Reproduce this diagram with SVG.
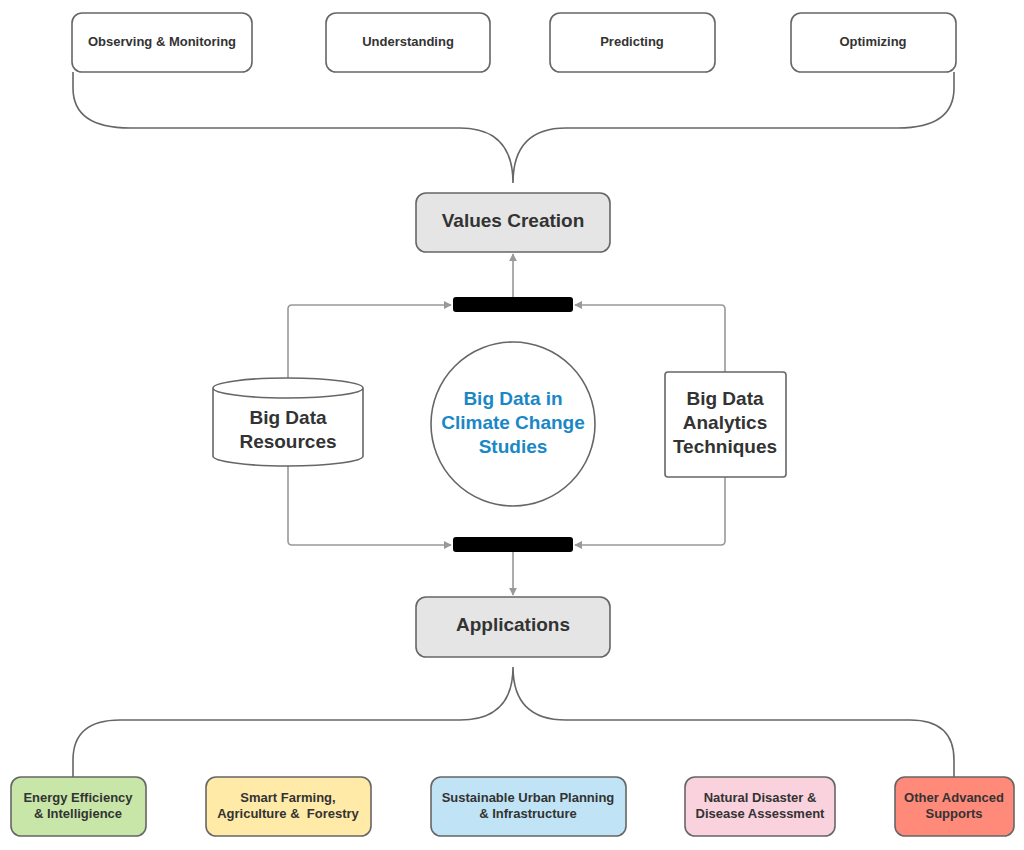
<svg xmlns="http://www.w3.org/2000/svg" width="1024" height="850" viewBox="0 0 1024 850">
<style>
.b{fill:#fff;stroke:#666;stroke-width:1.6}
.g{fill:#e5e5e5;stroke:#666;stroke-width:1.6}
.t{font-family:"Liberation Sans",Arial,sans-serif;font-weight:bold;fill:#333;text-anchor:middle}
.s{font-size:13px}
.m{font-size:19px}
.c{fill:none;stroke:#666;stroke-width:1.6}
.a{fill:none;stroke:#999;stroke-width:1.6}
</style>
<defs><marker id="ar" viewBox="0 0 10 10" refX="9" refY="5" markerWidth="8" markerHeight="8" markerUnits="userSpaceOnUse" orient="auto"><path d="M0,0L10,5L0,10z" fill="#999"/></marker></defs>
<rect width="1024" height="850" fill="#fff"/>
<g id="connectors">
<path class="c" d="M73,72 V88 Q73,128 130,128 H460 Q513,128 513,183 Q513,128 566,128 H898 Q954,128 954,88 V72"/>
<path class="c" d="M513,667 Q513,720 460,720 H120 Q73,720 73,760 V777 M513,667 Q513,720 566,720 H910 Q954,720 954,760 V777"/>
<path class="a" d="M513,297 V254" marker-end="url(#ar)"/>
<path class="a" d="M513,552 V595" marker-end="url(#ar)"/>
<path class="a" d="M288,378 V309 Q288,305 292,305 H451" marker-end="url(#ar)"/>
<path class="a" d="M725,372 V309 Q725,305 721,305 H575" marker-end="url(#ar)"/>
<path class="a" d="M288,466 V541 Q288,545 292,545 H451" marker-end="url(#ar)"/>
<path class="a" d="M725,477 V541 Q725,545 721,545 H575" marker-end="url(#ar)"/>
</g>
<g id="observing"><rect class="b" x="72" y="13" width="180" height="59" rx="10"/><text class="t s" x="162" y="46">Observing &amp; Monitoring</text></g>
<g id="understanding"><rect class="b" x="326" y="13" width="164" height="59" rx="10"/><text class="t s" x="408" y="46">Understanding</text></g>
<g id="predicting"><rect class="b" x="550" y="13" width="165" height="59" rx="10"/><text class="t s" x="632" y="46">Predicting</text></g>
<g id="optimizing"><rect class="b" x="791" y="13" width="165" height="59" rx="10"/><text class="t s" x="873" y="46">Optimizing</text></g>
<g id="values"><rect class="g" x="416" y="193" width="194" height="59" rx="10"/><text class="t m" x="513" y="227">Values Creation</text></g>
<g id="bar-top"><rect x="453" y="297" width="120" height="15" rx="3" fill="#000"/></g>
<g id="bar-bottom"><rect x="453" y="537" width="120" height="15" rx="3" fill="#000"/></g>
<g id="resources"><path class="b" d="M213,388 V456 A75,10 0 0 0 363,456 V388 A75,10 0 0 0 213,388 A75,10 0 0 0 363,388"/><text class="t m" x="288" y="424">Big Data</text><text class="t m" x="288" y="448">Resources</text></g>
<g id="center"><circle class="b" cx="513" cy="424" r="82"/><text class="t m" x="513" y="405" style="fill:#1a87c6">Big Data in</text><text class="t m" x="513" y="429" style="fill:#1a87c6">Climate Change</text><text class="t m" x="513" y="453" style="fill:#1a87c6">Studies</text></g>
<g id="techniques"><rect class="b" x="665" y="372" width="121" height="105" rx="3"/><text class="t m" x="725" y="405">Big Data</text><text class="t m" x="725" y="429">Analytics</text><text class="t m" x="725" y="453">Techniques</text></g>
<g id="applications"><rect class="g" x="416" y="597" width="194" height="60" rx="10"/><text class="t m" x="513" y="631">Applications</text></g>
<g id="energy"><rect class="b" x="11" y="777" width="135" height="59" rx="10" style="fill:#c7e6a8"/><text class="t s" x="78" y="802">Energy Efficiency</text><text class="t s" x="78" y="818">&amp; Intelligience</text></g>
<g id="farming"><rect class="b" x="206" y="777" width="165" height="59" rx="10" style="fill:#ffeaa7"/><text class="t s" x="288" y="802">Smart Farming,</text><text class="t s" x="288" y="818" xml:space="preserve">Agriculture &amp;  Forestry</text></g>
<g id="urban"><rect class="b" x="431" y="777" width="195" height="59" rx="10" style="fill:#c0e3f5"/><text class="t s" x="528" y="802">Sustainable Urban Planning</text><text class="t s" x="528" y="818">&amp; Infrastructure</text></g>
<g id="disaster"><rect class="b" x="685" y="777" width="150" height="59" rx="10" style="fill:#f9d2dd"/><text class="t s" x="760" y="802">Natural Disaster &amp;</text><text class="t s" x="760" y="818">Disease Assessment</text></g>
<g id="other"><rect class="b" x="895" y="777" width="119" height="59" rx="10" style="fill:#ff8a7a"/><text class="t s" x="954" y="802">Other Advanced</text><text class="t s" x="954" y="818">Supports</text></g>
</svg>
